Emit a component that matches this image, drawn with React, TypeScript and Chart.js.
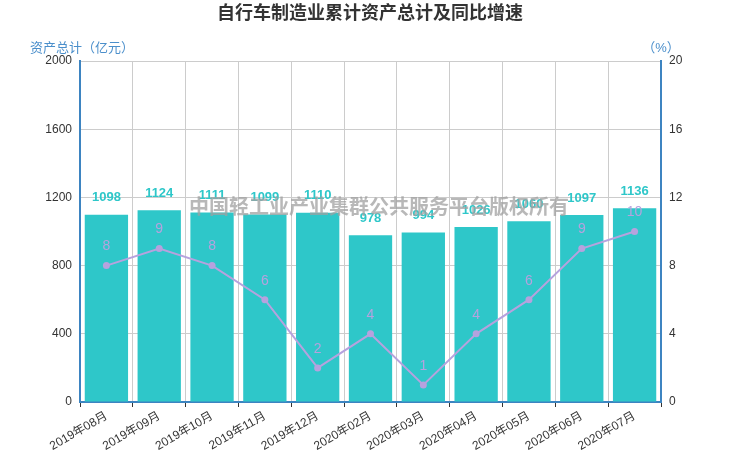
import React, { useEffect, useRef } from "react";
import { Chart, registerables } from "chart.js";

Chart.register(...registerables);

const categories = [
  "2019年08月", "2019年09月", "2019年10月", "2019年11月", "2019年12月",
  "2020年02月", "2020年03月", "2020年04月", "2020年05月", "2020年06月", "2020年07月",
];
const assetTotals = [1098, 1124, 1111, 1099, 1110, 978, 994, 1026, 1060, 1097, 1136];
const growthRates = [8, 9, 8, 6, 2, 4, 1, 4, 6, 9, 10];

const titleText = "自行车制造业累计资产总计及同比增速";
const leftAxisTitle = "资产总计（亿元）";
const rightAxisTitle = "（%）";
const watermarkText = "中国轻工业产业集群公共服务平台版权所有";

const FONT = "'Liberation Sans', 'Noto Sans CJK SC', sans-serif";
const BAR_COLOR = "#2ec7c9";
const LINE_COLOR = "#b6a2de";
const AXIS_COLOR = "#3d84c1";

const decorPlugin = {
  id: "decor",
  afterDraw(chart: any) {
    const ctx = chart.ctx;
    const area = chart.chartArea;
    ctx.save();
    // title
    ctx.fillStyle = "#333";
    ctx.font = `bold 18px ${FONT}`;
    ctx.textAlign = "center";
    ctx.textBaseline = "middle";
    ctx.fillText(titleText, chart.width / 2, 14);
    // axis titles
    ctx.font = `13px ${FONT}`;
    ctx.fillStyle = "#4b8fcb";
    ctx.textAlign = "left";
    ctx.fillText(leftAxisTitle, 30, 48);
    ctx.textAlign = "center";
    ctx.fillText(rightAxisTitle, area.right, 48);

    // data labels
    chart.data.datasets.forEach((ds: any, di: number) => {
      const meta = chart.getDatasetMeta(di);
      meta.data.forEach((el: any, i: number) => {
        const v = ds.data[i];
        if (ds.type === "bar") {
          ctx.font = `bold 13px ${FONT}`;
          ctx.fillStyle = BAR_COLOR;
          ctx.fillText(String(v), el.x, el.y - 17);
        } else {
          ctx.font = `14px ${FONT}`;
          ctx.fillStyle = LINE_COLOR;
          ctx.fillText(String(v), el.x, el.y - 19);
        }
      });
    });

    // watermark
    ctx.font = `bold 20px ${FONT}`;
    ctx.fillStyle = "rgba(160,160,160,0.75)";
    ctx.fillText(watermarkText, 379, 208);
    ctx.restore();
  },
};

export default function App() {
  const ref = useRef<HTMLCanvasElement>(null);
  useEffect(() => {
    document.body.style.margin = "0";
    const chart = new Chart(ref.current as HTMLCanvasElement, {
      data: {
        labels: categories,
        datasets: [
          {
            type: "line",
            label: "同比增速",
            data: growthRates,
            yAxisID: "y1",
            borderColor: LINE_COLOR,
            backgroundColor: LINE_COLOR,
            borderWidth: 2,
            pointRadius: 3.5,
            pointBackgroundColor: LINE_COLOR,
            pointBorderWidth: 0,
            tension: 0,
            order: 0,
          } as any,
          {
            type: "bar",
            label: "资产总计",
            data: assetTotals,
            yAxisID: "y",
            backgroundColor: BAR_COLOR,
            barPercentage: 0.82,
            categoryPercentage: 1,
            order: 1,
          } as any,
        ],
      },
      options: {
        responsive: false,
        animation: false,
        layout: { padding: { top: 61, left: 0, right: 0, bottom: 0 } },
        plugins: { legend: { display: false }, tooltip: { enabled: false }, title: { display: false } },
        scales: {
          x: {
            offset: true,
            grid: {
              offset: true,
              color: "#cccccc",
              tickColor: "#333",
              tickLength: 5,
            },
            border: { color: AXIS_COLOR, width: 2 },
            ticks: {
              color: "#333",
              font: { family: FONT, size: 12 },
              minRotation: 30,
              maxRotation: 30,
              autoSkip: false,
              padding: 2,
            },
            afterFit(scale: any) {
              scale.height = 60;
            },
          },
          y: {
            position: "left",
            min: 0,
            max: 2000,
            ticks: {
              stepSize: 400,
              color: "#333",
              font: { family: FONT, size: 12 },
              padding: 8,
              callback: (v: any) => String(v),
            },
            grid: { color: "#cccccc", drawTicks: false },
            border: { color: AXIS_COLOR, width: 2 },
            afterFit(scale: any) {
              scale.width = 80;
            },
          },
          y1: {
            position: "right",
            min: 0,
            max: 20,
            ticks: {
              stepSize: 4,
              color: "#333",
              font: { family: FONT, size: 12 },
              padding: 8,
              callback: (v: any) => String(v),
            },
            grid: { drawOnChartArea: false, drawTicks: false },
            border: { color: AXIS_COLOR, width: 2 },
            afterFit(scale: any) {
              scale.width = 79;
            },
          },
        },
      },
      plugins: [decorPlugin],
    } as any);
    return () => chart.destroy();
  }, []);
  return <canvas ref={ref} width={740} height={462} style={{ display: "block" }} />;
}
